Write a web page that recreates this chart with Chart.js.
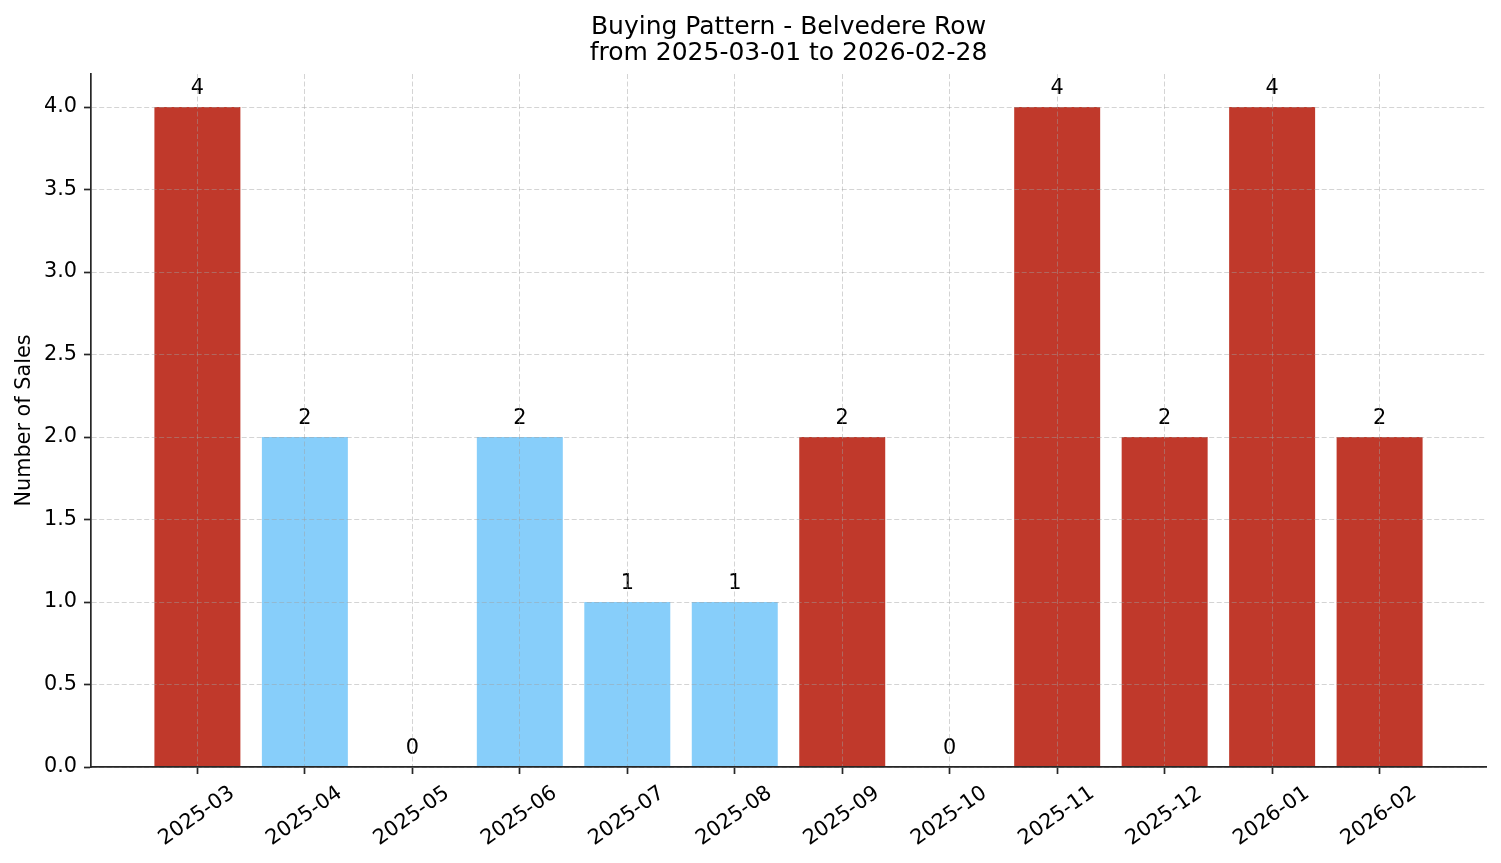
<!DOCTYPE html>
<html>
<head>
<meta charset="utf-8">
<script src="https://cdn.jsdelivr.net/npm/chart.js@4.4.1/dist/chart.umd.min.js"></script>
<style>
  html, body { margin: 0; padding: 0; background: #fff; }
  #wrap { width: 1501px; height: 863px; position: relative; }
</style>
</head>
<body>
<div id="wrap"><canvas id="salesChart"></canvas></div>
<script>
// Chart data
const titleLines = ['Buying Pattern - Belvedere Row', 'from 2025-03-01 to 2026-02-28'];
const months = ['2025-03', '2025-04', '2025-05', '2025-06', '2025-07', '2025-08',
                '2025-09', '2025-10', '2025-11', '2025-12', '2026-01', '2026-02'];
const sales = [4, 2, 0, 2, 1, 1, 2, 0, 4, 2, 4, 2];
const yTicks = [0, 0.5, 1, 1.5, 2, 2.5, 3, 3.5, 4];

const RED = '#c0392b';
const BLUE = '#87cefa';
const AXIS = '#262626';

// Sep..Mar in red, Apr..Aug in light blue
const barColors = months.map(m => {
    const mm = parseInt(m.slice(5), 10);
    return (mm >= 9 || mm <= 3) ? RED : BLUE;
});

Chart.defaults.font.family = "'DejaVu Sans', sans-serif";
Chart.defaults.font.size = 20.8;
Chart.defaults.color = '#000';

// value labels above each bar + title centred over the plot area
const annotate = {
    id: 'annotate',
    afterDatasetsDraw(chart) {
        const ctx = chart.ctx;
        const meta = chart.getDatasetMeta(0);
        ctx.save();
        ctx.font = "20.8px 'DejaVu Sans'";
        ctx.fillStyle = '#000';
        ctx.textAlign = 'center';
        ctx.textBaseline = 'alphabetic';
        meta.data.forEach((bar, i) => {
            ctx.fillText(String(sales[i]), bar.x, bar.y - 13);
        });
        const area = chart.chartArea;
        const cx = (area.left + area.right) / 2;
        ctx.font = "25px 'DejaVu Sans'";
        ctx.fillText(titleLines[0], cx, 33.5);
        ctx.fillText(titleLines[1], cx, 59.5);
        ctx.restore();
    }
};

const gridOpts = {
    color: 'rgba(160, 160, 160, 0.45)',
    lineWidth: 1,
    offset: false,
    z: 1,
    drawTicks: true,
    tickLength: 7,
    tickWidth: 1.7,
    tickColor: AXIS,
    tickBorderDash: []
};

new Chart(document.getElementById('salesChart'), {
    type: 'bar',
    data: {
        datasets: [{
            data: sales.map((v, i) => ({ x: i, y: v })),
            backgroundColor: barColors,
            borderWidth: 0,
            barPercentage: 1,
            categoryPercentage: 0.8
        }]
    },
    options: {
        responsive: true,
        maintainAspectRatio: false,
        animation: false,
        layout: { padding: { left: 0, right: 15, top: 74, bottom: 0 } },
        plugins: {
            legend: { display: false },
            tooltip: { enabled: false },
            title: { display: false }
        },
        scales: {
            x: {
                type: 'linear',
                offset: false,
                min: -0.99,
                max: 11.99,
                afterBuildTicks: s => { s.ticks = months.map((_, i) => ({ value: i })); },
                afterFit: s => { s.height = 96; },
                grid: gridOpts,
                border: { display: true, color: AXIS, width: 1.7, dash: [5, 2.5], z: 2 },
                ticks: {
                    autoSkip: false,
                    minRotation: 35,
                    maxRotation: 35,
                    padding: 7,
                    labelOffset: 35,
                    callback: v => months[v]
                }
            },
            y: {
                min: 0,
                max: 4.2,
                afterBuildTicks: s => { s.ticks = yTicks.map(v => ({ value: v })); },
                afterFit: s => { s.width = 91; },
                grid: gridOpts,
                border: { display: true, color: AXIS, width: 1.7, dash: [5, 2.5], z: 2 },
                ticks: {
                    padding: 7,
                    callback: v => v.toFixed(1)
                },
                title: {
                    display: true,
                    text: 'Number of Sales',
                    color: '#000',
                    font: { size: 20.8 },
                    padding: { top: 12, bottom: 0 }
                }
            }
        }
    },
    plugins: [annotate]
});
</script>
</body>
</html>
